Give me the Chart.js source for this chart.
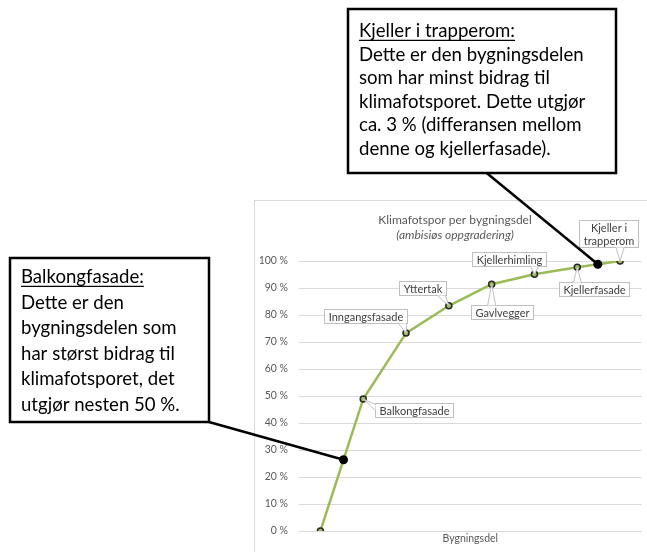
<!DOCTYPE html>
<html>
<head>
<meta charset="UTF-8">
<title>Klimafotspor per bygningsdel</title>
<script src="https://cdn.jsdelivr.net/npm/chart.js@4.4.0/dist/chart.umd.min.js"></script>
<style>
  html, body { margin: 0; padding: 0; background: #fff; }
  canvas { display: block; }
</style>
</head>
<body>
<canvas id="klimaChart" width="647" height="552"></canvas>
<script>
// Kumulativ andel av klimafotsporet (%) per bygningsdel
const bygningsdeler = ['', 'Balkongfasade', 'Inngangsfasade', 'Yttertak', 'Gavlvegger', 'Kjellerhimling', 'Kjellerfasade', 'Kjeller i trapperom'];
const andel = [0, 48.9, 73.3, 83.4, 91.4, 95.1, 97.7, 100];
const yTicks = [0, 10, 20, 30, 40, 50, 60, 70, 80, 90, 100];

// plassering av dataetikettene i forhold til punktet
const etikettPlassering = [
  null,
  { dx: 51, dy: 11.5, side: 'left' },
  { dx: -40.6, dy: -17.5, side: 'bottom' },
  { dx: -26, dy: -17.7, side: 'bottom' },
  { dx: 10, dy: 28, side: 'top' },
  { dx: -25, dy: -15.6, side: 'bottom' },
  { dx: 17, dy: 21.7, side: 'top' },
  { dx: -12, dy: -28, side: 'bottom', maxWidth: 52 }
];

// kommentarbokser, festet til linja ved et brøkindeks
const kommentarer = [
  {
    linjer: ['Kjeller i trapperom:', 'Dette er den bygningsdelen', 'som har minst bidrag til', 'klimafotsporet. Dette utgjør', 'ca. 3 % (differansen mellom', 'denne og kjellerfasade).'],
    boks: [348, 9, 268, 164], forsteLinje: 37.3, linjeavstand: 23.5,
    hale: [486.7, 173], feste: 6.48
  },
  {
    linjer: ['Balkongfasade:', 'Dette er den', 'bygningsdelen som', 'har størst bidrag til', 'klimafotsporet, det', 'utgjør nesten 50 %.'],
    boks: [10, 258, 199, 164], forsteLinje: 283.3, linjeavstand: 25.5,
    hale: [209, 422], feste: 0.54
  }
];

const GRAA = '#595959';

function brytTekst(ctx, tekst, maxWidth) {
  if (!maxWidth) return [tekst];
  const ord = tekst.split(' ');
  const linjer = [];
  let linje = '';
  ord.forEach(o => {
    const test = linje ? linje + ' ' + o : o;
    if (linje && ctx.measureText(test).width > maxWidth) {
      linjer.push(linje);
      linje = o;
    } else {
      linje = test;
    }
  });
  linjer.push(linje);
  return linjer;
}

// ramme og overskrift
const ramme = {
  id: 'ramme',
  beforeDraw(chart) {
    const ctx = chart.ctx;
    ctx.save();
    ctx.strokeStyle = '#d9d9d9';
    ctx.lineWidth = 1;
    ctx.strokeRect(254.5, 200.5, 500, 500);
    ctx.fillStyle = GRAA;
    ctx.textAlign = 'center';
    ctx.textBaseline = 'middle';
    ctx.font = '12px Lato';
    ctx.fillText('Klimafotspor per bygningsdel', 455, 220);
    ctx.font = 'italic 12px Lato';
    ctx.fillText('(ambisiøs oppgradering)', 455, 235);
    ctx.restore();
  }
};

// dataetiketter med hale mot punktet
const etiketter = {
  id: 'etiketter',
  afterDatasetsDraw(chart) {
    const ctx = chart.ctx;
    const meta = chart.getDatasetMeta(0);
    ctx.save();
    ctx.font = '11px Lato';
    ctx.lineWidth = 1;
    meta.data.forEach((pt, i) => {
      const p = etikettPlassering[i];
      if (!p) return;
      const linjer = brytTekst(ctx, bygningsdeler[i], p.maxWidth);
      const lh = 13;
      const w = Math.round(Math.max(...linjer.map(l => ctx.measureText(l).width)) + 8);
      const h = Math.round(linjer.length * lh + 1);
      const x0 = Math.round(pt.x + p.dx - w / 2) + 0.5;
      const y0 = Math.round(pt.y + p.dy - h / 2) + 0.5;

      // halens base langs valgt kant
      let b1, b2;
      if (p.side === 'left' || p.side === 'right') {
        const ex = p.side === 'left' ? x0 : x0 + w;
        const by = Math.min(Math.max(pt.y, y0 + 4), y0 + h - 4);
        b1 = [ex, by - 3]; b2 = [ex, by + 3];
      } else {
        const ey = p.side === 'top' ? y0 : y0 + h;
        const bx = Math.min(Math.max(pt.x, x0 + 5), x0 + w - 5);
        b1 = [bx - 4, ey]; b2 = [bx + 4, ey];
      }

      ctx.fillStyle = '#fff';
      ctx.strokeStyle = '#bfbfbf';
      ctx.fillRect(x0, y0, w, h);
      ctx.strokeRect(x0, y0, w, h);
      ctx.beginPath();
      ctx.moveTo(pt.x, pt.y);
      ctx.lineTo(b1[0], b1[1]);
      ctx.lineTo(b2[0], b2[1]);
      ctx.closePath();
      ctx.fill();
      ctx.beginPath();
      ctx.moveTo(b1[0], b1[1]);
      ctx.lineTo(pt.x, pt.y);
      ctx.lineTo(b2[0], b2[1]);
      ctx.stroke();

      ctx.fillStyle = '#404040';
      ctx.textAlign = 'center';
      ctx.textBaseline = 'middle';
      linjer.forEach((l, k) => {
        ctx.fillText(l, x0 + w / 2, y0 + 1 + lh / 2 + k * lh);
      });
    });
    ctx.restore();
  }
};

// kommentarbokser med strek til linja
const kommentarLag = {
  id: 'kommentarer',
  afterDraw(chart) {
    const ctx = chart.ctx;
    const xs = chart.scales.x, ys = chart.scales.y;
    ctx.save();
    kommentarer.forEach(k => {
      const i0 = Math.floor(k.feste), t = k.feste - i0;
      const verdi = andel[i0] + (andel[i0 + 1] - andel[i0]) * t;
      const px = xs.getPixelForValue(k.feste);
      const py = ys.getPixelForValue(verdi);

      ctx.strokeStyle = '#000';
      ctx.lineWidth = 2.5;
      ctx.beginPath();
      ctx.moveTo(k.hale[0], k.hale[1]);
      ctx.lineTo(px, py);
      ctx.stroke();
      ctx.fillStyle = '#000';
      ctx.beginPath();
      ctx.arc(px, py, 4.5, 0, Math.PI * 2);
      ctx.fill();

      const [bx, by, bw, bh] = k.boks;
      ctx.fillStyle = '#fff';
      ctx.fillRect(bx, by, bw, bh);
      ctx.lineWidth = 2.5;
      ctx.strokeRect(bx, by, bw, bh);

      ctx.fillStyle = '#000';
      ctx.font = '18.6px Lato';
      ctx.textAlign = 'left';
      ctx.textBaseline = 'alphabetic';
      const tx = bx + 11;
      k.linjer.forEach((l, n) => {
        const y = k.forsteLinje + n * k.linjeavstand;
        ctx.fillText(l, tx, y);
        if (n === 0) {
          ctx.lineWidth = 1.3;
          ctx.beginPath();
          ctx.moveTo(tx, y + 3);
          ctx.lineTo(tx + ctx.measureText(l).width, y + 3);
          ctx.stroke();
        }
      });
    });
    ctx.restore();
  }
};

new Chart(document.getElementById('klimaChart'), {
  type: 'line',
  data: {
    labels: bygningsdeler,
    datasets: [{
      data: andel,
      borderColor: '#9bbb59',
      borderWidth: 2.5,
      tension: 0,
      pointRadius: 3,
      pointBorderWidth: 1.5,
      pointBackgroundColor: '#9bbb59',
      pointBorderColor: '#262626'
    }]
  },
  options: {
    responsive: false,
    animation: false,
    devicePixelRatio: 1,
    layout: { padding: { left: 254, top: 261, right: 1, bottom: 0 } },
    plugins: {
      legend: { display: false },
      tooltip: { enabled: false }
    },
    scales: {
      x: {
        offset: true,
        grid: { display: false },
        border: { display: false },
        ticks: { display: false },
        title: {
          display: true,
          text: 'Bygningsdel',
          color: GRAA,
          font: { family: 'Lato', size: 10.5 },
          padding: { top: 0, bottom: 7 }
        },
        afterFit(axis) { axis.height = 21; }
      },
      y: {
        min: 0,
        max: 100,
        afterBuildTicks(axis) { axis.ticks = yTicks.map(v => ({ value: v })); },
        ticks: {
          callback: v => v + ' %',
          color: GRAA,
          font: { family: 'Lato', size: 10.5 },
          padding: 11
        },
        grid: { color: '#d9d9d9', drawTicks: false },
        border: { display: false },
        afterFit(axis) { axis.width = 45; }
      }
    }
  },
  plugins: [ramme, etiketter, kommentarLag]
});
</script>
</body>
</html>
